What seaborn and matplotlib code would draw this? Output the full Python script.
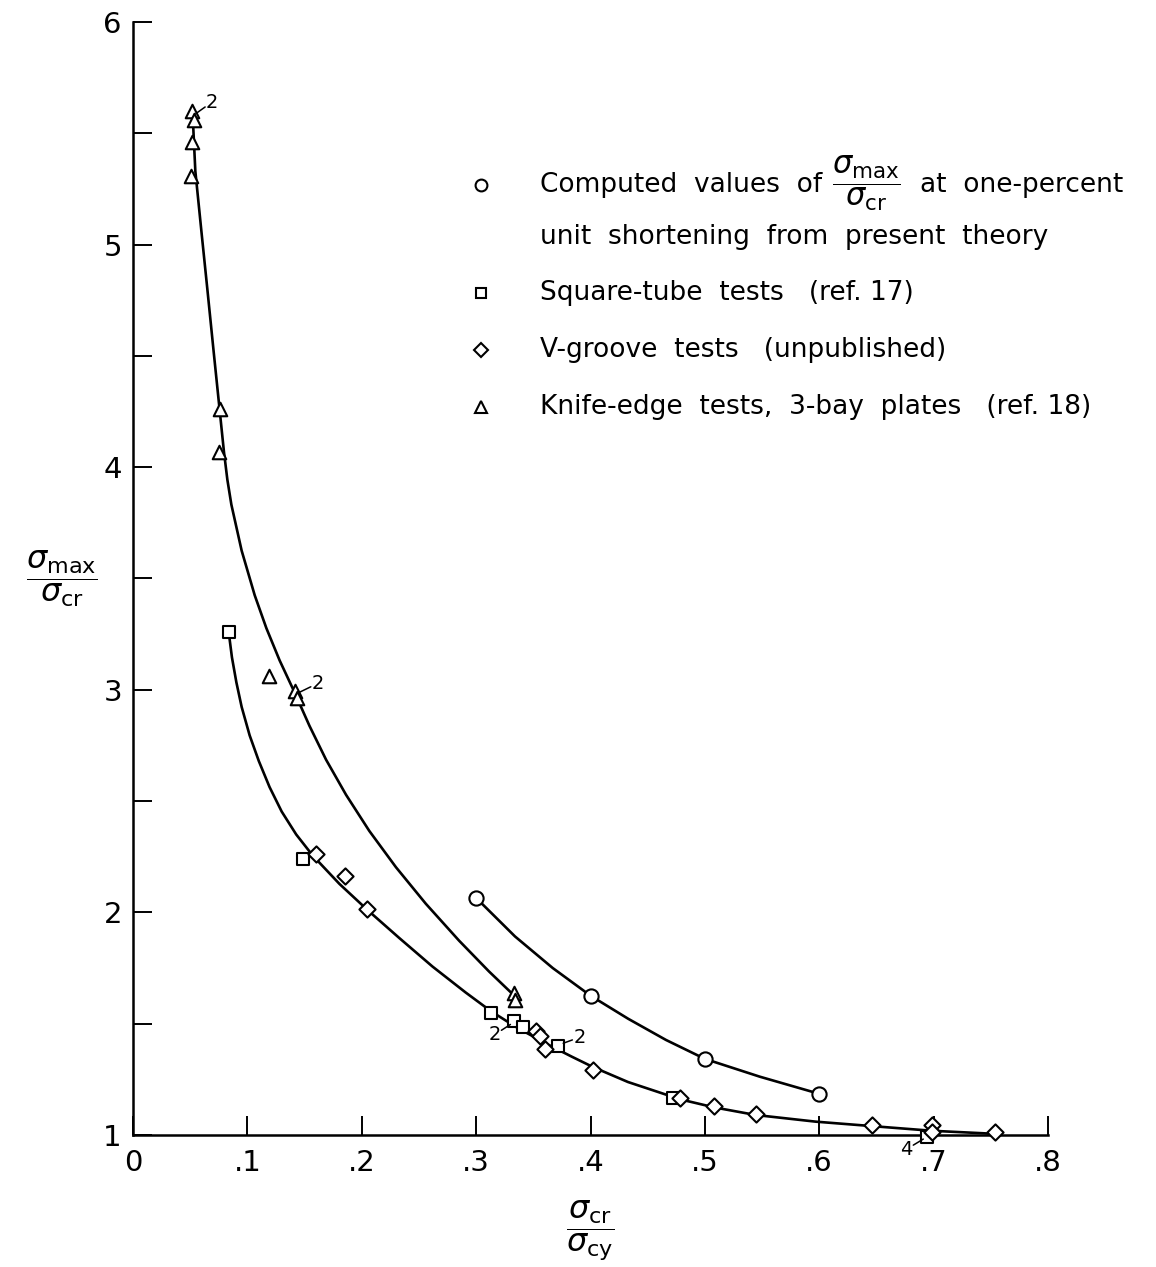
import numpy as np
import matplotlib
matplotlib.use("Agg")
import matplotlib.pyplot as plt
import seaborn as sns

# ---- faired curves (sigma_cr/sigma_cy , sigma_max/sigma_cr) ----
theory_curve_x = [0.300, 0.334, 0.367, 0.400, 0.433, 0.466, 0.500, 0.548, 0.600]
theory_curve_y = [2.065, 1.892, 1.750, 1.626, 1.522, 1.427, 1.342, 1.262, 1.185]

knife_curve_x = [0.052, 0.0545, 0.060, 0.065, 0.0705, 0.0757, 0.0795, 0.0825, 0.086,
                 0.095, 0.1064, 0.1166, 0.1282, 0.1412, 0.1543, 0.1688, 0.1863, 0.2066,
                 0.2299, 0.256, 0.2851, 0.3112, 0.336]
knife_curve_y = [5.60, 5.33, 5.05, 4.80, 4.52, 4.26, 4.07, 3.944, 3.832,
                 3.625, 3.425, 3.277, 3.132, 2.989, 2.838, 2.686, 2.528, 2.366,
                 2.203, 2.039, 1.873, 1.735, 1.613]

tube_curve_x = [0.0837, 0.0865, 0.0904, 0.095, 0.102, 0.110, 0.1194, 0.130, 0.1427,
                0.1572, 0.1805, 0.2052, 0.2328, 0.2618, 0.2909, 0.313, 0.3343, 0.3606,
                0.3836, 0.4023, 0.4328, 0.4786, 0.5082, 0.5443, 0.5968, 0.646, 0.6985,
                0.7445, 0.752]
tube_curve_y = [3.258, 3.146, 3.033, 2.923, 2.795, 2.680, 2.563, 2.453, 2.350,
                2.255, 2.128, 2.010, 1.885, 1.757, 1.640, 1.556, 1.487, 1.412,
                1.352, 1.305, 1.238, 1.160, 1.124, 1.090, 1.060, 1.040, 1.019,
                1.0075, 1.005]

# ---- plotted points ----
computed_x = [0.300, 0.400, 0.500, 0.600]
computed_y = [2.065, 1.626, 1.342, 1.185]

square_x = [0.084, 0.149, 0.313, 0.333, 0.341, 0.372, 0.472, 0.694]
square_y = [3.26, 2.24, 1.548, 1.51, 1.487, 1.40, 1.165, 0.99]

vgroove_x = [0.160, 0.185, 0.205, 0.3524, 0.3556, 0.3599, 0.4023, 0.4786, 0.5082,
             0.5443, 0.646, 0.6985, 0.699, 0.7537]
vgroove_y = [2.263, 2.163, 2.016, 1.465, 1.443, 1.386, 1.293, 1.168, 1.130,
             1.093, 1.045, 1.045, 1.015, 1.013]

knife_x = [0.052, 0.053, 0.052, 0.051, 0.0757, 0.0755, 0.119, 0.142, 0.143, 0.3335, 0.334]
knife_y = [5.60, 5.56, 5.463, 5.306, 4.26, 4.07, 3.063, 2.995, 2.961, 1.640, 1.608]

# repeated-test counts: label, point it refers to, label position
repeat_labels = ["2", "2", "2", "2", "4"]
repeat_pt_x = [0.054, 0.144, 0.331, 0.375, 0.692]
repeat_pt_y = [5.585, 2.985, 1.50, 1.41, 0.985]
repeat_txt_x = [0.069, 0.162, 0.316, 0.391, 0.676]
repeat_txt_y = [5.64, 3.03, 1.45, 1.44, 0.935]

x_ticks = [0.0, 0.1, 0.2, 0.3, 0.4, 0.5, 0.6, 0.7, 0.8]
x_tick_labels = ["0", ".1", ".2", ".3", ".4", ".5", ".6", ".7", ".8"]
y_ticks = [1, 2, 3, 4, 5, 6]
y_tick_labels = ["1", "2", "3", "4", "5", "6"]
y_minor_ticks = [1.5, 2.5, 3.5, 4.5, 5.5]

sns.set_theme(style="ticks")
plt.rcParams["font.family"] = ["DejaVu Sans"]
plt.rcParams["mathtext.fontset"] = "dejavusans"
plt.rcParams["text.color"] = "black"
plt.rcParams["axes.labelcolor"] = "black"

W, H = 1156, 1267
fig = plt.figure(figsize=(W / 100, H / 100), dpi=100)
fig.patch.set_facecolor("white")
ax = fig.add_axes([133 / W, 1 - 1135 / H, 915 / W, 1113 / H])
ax.set_facecolor("white")

for cx, cy in [(theory_curve_x, theory_curve_y),
               (knife_curve_x, knife_curve_y),
               (tube_curve_x, tube_curve_y)]:
    sns.lineplot(x=cx, y=cy, ax=ax, color="black", linewidth=1.9,
                 sort=False, estimator=None, zorder=2)

def points(x, y, marker, size):
    sns.scatterplot(x=x, y=y, ax=ax, marker=marker, s=size, color="white",
                    edgecolor="black", linewidth=1.5, zorder=3, clip_on=False,
                    legend=False)

points(computed_x, computed_y, "o", 105)
points(square_x, square_y, "s", 80)
points(vgroove_x, vgroove_y, "D", 68)
points(knife_x, knife_y, "^", 95)

for lab, px, py, tx, ty in zip(repeat_labels, repeat_pt_x, repeat_pt_y,
                               repeat_txt_x, repeat_txt_y):
    ax.annotate(lab, xy=(px, py), xytext=(tx, ty), fontsize=14,
                ha="center", va="center", annotation_clip=False, zorder=4,
                arrowprops=dict(arrowstyle="-", lw=1.1, color="black",
                                patchA=None, shrinkA=6, shrinkB=1))

ax.set_xlim(0, 0.8)
ax.set_ylim(1, 6)
ax.set_xticks(x_ticks)
ax.set_xticklabels(x_tick_labels)
ax.set_yticks(y_ticks)
ax.set_yticklabels(y_tick_labels)
ax.set_yticks(y_minor_ticks, minor=True)
ax.tick_params(axis="both", which="both", direction="in", length=14,
               width=1.4, color="black", labelsize=21, labelcolor="black")
ax.tick_params(axis="x", pad=10)
ax.tick_params(axis="y", pad=8)
ax.set_xlabel("")
ax.set_ylabel("")
for side in ["top", "right"]:
    ax.spines[side].set_visible(False)
for side in ["left", "bottom"]:
    ax.spines[side].set_linewidth(1.8)
    ax.spines[side].set_color("black")

# axis titles as stacked fractions
ax.text(-0.078, 0.500, r"$\dfrac{\sigma_{\mathrm{max}}}{\sigma_{\mathrm{cr}}}$",
        transform=ax.transAxes, fontsize=23, ha="center", va="center")
ax.text(0.4995, -0.085, r"$\dfrac{\sigma_{\mathrm{cr}}}{\sigma_{\mathrm{cy}}}$",
        transform=ax.transAxes, fontsize=23, ha="center", va="center")

# key
key_x, text_x = 0.3803, 0.4448
rows = [0.8536, 0.8068, 0.7565, 0.7053, 0.6541]
key_markers = [("o", 8.5), None, ("s", 7.5), ("D", 7.0), ("^", 8.5)]
key_texts = [
    "Computed  values  of",
    "unit  shortening  from  present  theory",
    "Square-tube  tests   (ref. 17)",
    "V-groove  tests   (unpublished)",
    "Knife-edge  tests,  3-bay  plates   (ref. 18)",
]
key_size = 19
for yr, mk, txt in zip(rows, key_markers, key_texts):
    if mk is not None:
        ax.plot([key_x], [yr], marker=mk[0], ms=mk[1], mfc="white", mec="black",
                mew=1.5, ls="none", transform=ax.transAxes, clip_on=False)
    ax.text(text_x, yr, txt, transform=ax.transAxes, fontsize=key_size,
            ha="left", va="center")
ax.text(0.8010, rows[0] + 0.002,
        r"$\dfrac{\sigma_{\mathrm{max}}}{\sigma_{\mathrm{cr}}}$",
        transform=ax.transAxes, fontsize=22, ha="center", va="center")
ax.text(0.8600, rows[0], "at  one-percent", transform=ax.transAxes,
        fontsize=key_size, ha="left", va="center")

fig.savefig("out.png", dpi=100, facecolor="white")
